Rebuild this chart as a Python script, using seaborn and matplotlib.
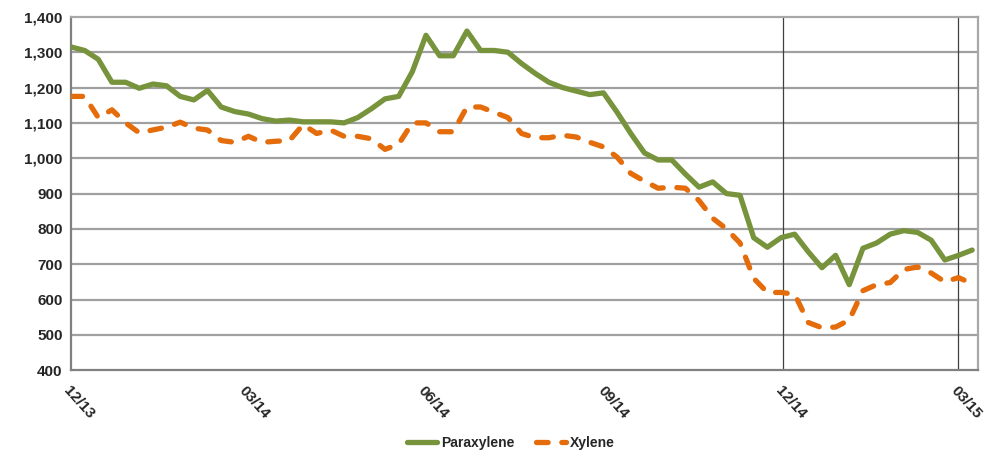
import pandas as pd
import seaborn as sns
import numpy as np
import matplotlib
matplotlib.use('Agg')
import matplotlib.pyplot as plt

# weekly prices
weeks = pd.date_range('2013-12-01', periods=67, freq='7D')

paraxylene = [1315, 1305, 1280, 1215, 1215, 1198, 1210, 1205, 1175, 1165,
              1192, 1145, 1132, 1125, 1112, 1105, 1108, 1103, 1103, 1103,
              1100, 1115, 1140, 1168, 1175, 1245, 1348, 1290, 1290, 1360,
              1305, 1305, 1300, 1268, 1240, 1215, 1200, 1190, 1180, 1185,
              1130, 1070, 1015, 995, 995, 955, 918, 933, 900, 895,
              775, 748, 775, 785, 735, 690, 725, 642, 745, 760,
              785, 795, 790, 768, 712, 725, 740]

xylene = [1175, 1175, 1115, 1137, 1100, 1072, 1080, 1088, 1102, 1085,
          1080, 1050, 1045, 1062, 1045, 1048, 1050, 1095, 1070, 1080,
          1062, 1062, 1055, 1025, 1040, 1100, 1100, 1075, 1075, 1145,
          1145, 1130, 1115, 1070, 1058, 1058, 1065, 1060, 1045, 1032,
          1003, 957, 935, 915, 918, 915, 880, 830, 800, 760,
          660, 620, 620, 615, 535, 520, 522, 542, 625, 642,
          648, 685, 692, 675, 650, 662, 645]

tick_dates = pd.to_datetime(['2013-12-01', '2014-03-01', '2014-06-01',
                             '2014-09-01', '2014-12-01', '2015-03-01'])
tick_labels = ['12/13', '03/14', '06/14', '09/14', '12/14', '03/15']
y_ticks = [400, 500, 600, 700, 800, 900, 1000, 1100, 1200, 1300, 1400]

df = pd.DataFrame({'week': weeks, 'Paraxylene': paraxylene, 'Xylene': xylene})

sns.set_style('white')
plt.rcParams['font.family'] = ['Liberation Sans', 'DejaVu Sans']
plt.rcParams['font.weight'] = 'bold'

fig = plt.figure(figsize=(9.94, 4.57), dpi=100)
ax = fig.add_axes([0.0714, 0.19, 0.9125, 0.773])

green = '#77933C'
orange = '#E46C0A'

sns.lineplot(data=df, x='week', y='Paraxylene', ax=ax, color=green,
             linewidth=3.8, label='Paraxylene', zorder=4)
sns.lineplot(data=df, x='week', y='Xylene', ax=ax, color=orange,
             linewidth=3.8, label='Xylene', zorder=3)
for ln in ax.lines:
    ln.set_solid_joinstyle('round')
    ln.set_dash_joinstyle('round')
ax.lines[1].set_dashes([2.2, 2.6])
ax.lines[1].set_dash_capstyle('round')

ax.set_ylim(400, 1400)
ax.set_xlim(pd.Timestamp('2013-12-01'), pd.Timestamp('2015-03-11'))
ax.set_yticks(y_ticks)
ax.set_yticklabels(['{:,}'.format(v) for v in y_ticks], fontsize=11, fontweight='bold')
ax.set_xticks(tick_dates)
ax.set_xticklabels(tick_labels, rotation=-48, ha='left', va='top',
                   rotation_mode='anchor', fontsize=11, fontweight='bold')
ax.tick_params(axis='x', direction='in', length=5, width=1, color='#808080', pad=10)
ax.tick_params(axis='y', length=0, pad=6)

# gridlines
for v in y_ticks[1:-1]:
    ax.axhline(v, color='#A0A0A0', linewidth=1.6, zorder=1)
for d in ['2014-12-01', '2015-03-01']:
    ax.axvline(pd.Timestamp(d), color='#404040', linewidth=0.9, zorder=2)

for side in ['left', 'bottom']:
    ax.spines[side].set_color('#808080')
    ax.spines[side].set_linewidth(1.6)
for side in ['top', 'right']:
    ax.spines[side].set_color('#A8A8A8')
    ax.spines[side].set_linewidth(1.6)

ax.set_xlabel('')
ax.set_ylabel('')
leg = ax.legend(loc='center', bbox_to_anchor=(0.485, -0.207), ncol=2, frameon=False,
                prop={'size': 10, 'weight': 'bold'}, handlelength=2.2, columnspacing=1.5,
                handletextpad=0.3)

fig.savefig('out.png', dpi=100)
